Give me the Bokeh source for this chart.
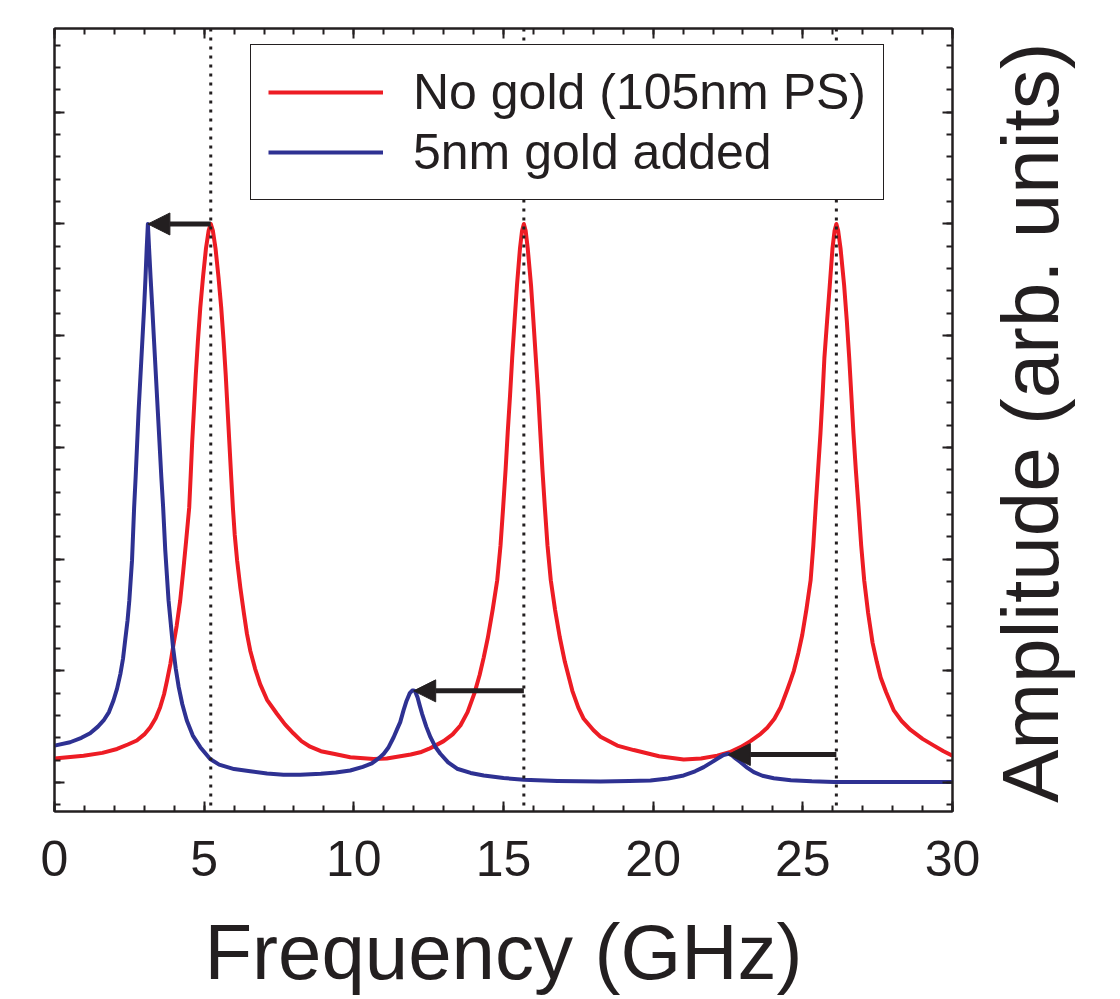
import math
from bokeh.plotting import figure
from bokeh.layouts import row
from bokeh.models import (LinearAxis, FixedTicker, Span, Arrow, NormalHead,
                          Legend, LegendItem, ColumnDataSource, Label)
from bokeh.embed import file_html
from bokeh.resources import INLINE

# ---------------- data ----------------
red_x = [0.0, 0.97, 1.6, 2.09, 2.45, 2.75, 3.0, 3.20, 3.38, 3.53, 3.66, 3.76, 3.87,
         3.96, 4.08, 4.20, 4.30, 4.40, 4.50, 4.55, 4.60, 4.66, 4.72, 4.79, 4.87, 4.96,
         5.06, 5.15, 5.22, 5.29, 5.38, 5.48, 5.57, 5.65, 5.72, 5.78, 5.84, 5.90, 5.96,
         6.02, 6.10, 6.21, 6.33, 6.43, 6.54, 6.70, 6.87, 7.10, 7.43, 7.7, 7.98, 8.25,
         8.54, 8.9, 9.32, 9.88, 10.66, 11.1, 11.55, 11.9, 12.22, 12.5, 12.72, 13.0,
         13.3, 13.56, 13.8, 14.03, 14.2, 14.34, 14.48, 14.64, 14.79, 14.90, 14.99,
         15.07, 15.14, 15.22, 15.29, 15.37, 15.45, 15.55, 15.62, 15.68, 15.74, 15.81,
         15.92, 16.00, 16.08, 16.16, 16.23, 16.30, 16.38, 16.47, 16.58, 16.72, 16.88,
         17.05, 17.30, 17.50, 17.68, 18.0, 18.24, 18.8, 19.35, 20.2, 21.02, 21.6,
         22.14, 22.55, 22.92, 23.25, 23.59, 23.81, 24.05, 24.26, 24.48, 24.60, 24.70,
         24.85, 24.98, 25.12, 25.26, 25.35, 25.43, 25.51, 25.59, 25.66, 25.72, 25.81,
         25.90, 25.99, 26.06, 26.12, 26.18, 26.26, 26.38, 26.47, 26.55, 26.62, 26.69,
         26.77, 26.86, 26.95, 27.05, 27.18, 27.33, 27.47, 27.60, 27.78, 28.04, 28.3,
         28.60, 29.0, 29.38, 29.7, 30.0]
red_y = [0.215, 0.24, 0.265, 0.30, 0.34, 0.376, 0.43, 0.495, 0.575, 0.674, 0.79, 0.913,
         1.06, 1.21, 1.40, 1.63, 1.89, 2.17, 2.46, 2.75, 3.05, 3.35, 3.65, 3.95, 4.25,
         4.52, 4.78, 4.94, 5.0, 4.94, 4.78, 4.52, 4.25, 3.95, 3.65, 3.35, 3.05, 2.75,
         2.46, 2.22, 1.99, 1.74, 1.51, 1.33, 1.18, 1.02, 0.88, 0.74, 0.615, 0.52, 0.44,
         0.37, 0.32, 0.28, 0.257, 0.225, 0.209, 0.215, 0.235, 0.25, 0.27, 0.30, 0.33,
         0.37, 0.43, 0.51, 0.63, 0.80, 0.96, 1.12, 1.30, 1.55, 1.81, 2.12, 2.47, 2.80,
         3.13, 3.47, 3.80, 4.13, 4.45, 4.78, 4.94, 5.0, 4.94, 4.78, 4.45, 4.13, 3.80,
         3.47, 3.13, 2.80, 2.47, 2.12, 1.81, 1.55, 1.30, 1.08, 0.82, 0.67, 0.57, 0.47,
         0.41, 0.33, 0.29, 0.235, 0.206, 0.215, 0.24, 0.27, 0.316, 0.37, 0.436, 0.49,
         0.57, 0.674, 0.83, 0.92, 1.0, 1.16, 1.32, 1.55, 1.81, 2.12, 2.47, 2.80, 3.13,
         3.47, 3.80, 4.13, 4.45, 4.78, 4.94, 5.0, 4.94, 4.78, 4.45, 4.13, 3.80, 3.47,
         3.13, 2.80, 2.47, 2.12, 1.81, 1.52, 1.25, 1.08, 0.94, 0.81, 0.645, 0.55, 0.47,
         0.39, 0.33, 0.28, 0.24]

blue_x = [0.0, 0.52, 0.9, 1.19, 1.45, 1.64, 1.82, 1.97, 2.09, 2.20, 2.29, 2.36, 2.44,
          2.50, 2.59, 2.66, 2.71, 2.76, 2.81, 2.87, 2.93, 2.99, 3.04, 3.08, 3.12, 3.16,
          3.21, 3.27, 3.33, 3.39, 3.45, 3.51, 3.57, 3.63, 3.70, 3.81, 3.96, 4.05, 4.15,
          4.27, 4.42, 4.62, 4.87, 5.2, 5.5, 6.0, 6.54, 7.1, 7.65, 8.21, 8.9, 9.4, 9.88,
          10.3, 10.6, 10.85, 11.0, 11.15, 11.33, 11.45, 11.55, 11.66, 11.76, 11.87,
          11.95, 12.0, 12.05, 12.13, 12.2, 12.28, 12.42, 12.56, 12.72, 12.89, 13.15,
          13.45, 13.9, 14.34, 15.0, 15.68, 16.8, 18.24, 19.2, 19.91, 20.5, 21.02, 21.4,
          21.69, 21.95, 22.14, 22.35, 22.51, 22.62, 22.75, 22.92, 23.15, 23.36, 23.65,
          24.03, 24.6, 25.3, 26.04, 28.0, 30.0]
blue_y = [0.33, 0.36, 0.40, 0.44, 0.50, 0.555, 0.63, 0.734, 0.84, 0.97, 1.11, 1.27,
          1.45, 1.63, 1.99, 2.46, 2.73, 3.03, 3.33, 3.63, 3.93, 4.23, 4.52, 4.78, 5.0,
          4.78, 4.52, 4.23, 3.93, 3.63, 3.33, 3.03, 2.73, 2.46, 2.08, 1.63, 1.21, 1.02,
          0.853, 0.70, 0.555, 0.42, 0.316, 0.21, 0.16, 0.12, 0.10, 0.08, 0.069, 0.068,
          0.078, 0.09, 0.107, 0.14, 0.17, 0.22, 0.257, 0.31, 0.405, 0.48, 0.54, 0.645,
          0.73, 0.80, 0.823, 0.824, 0.815, 0.76, 0.69, 0.615, 0.50, 0.405, 0.32, 0.257,
          0.18, 0.123, 0.085, 0.063, 0.04, 0.024, 0.014, 0.009, 0.012, 0.018, 0.035,
          0.063, 0.10, 0.137, 0.18, 0.212, 0.245, 0.257, 0.245, 0.215, 0.182, 0.13,
          0.092, 0.06, 0.038, 0.02, 0.01, 0.005, 0.003, 0.003]

series_labels = ["No gold (105nm PS)", "5nm gold added"]

# resonance positions (dotted lines) and shift arrows
mode_x = [5.22, 15.68, 26.12]
arrow_x_start = [5.22, 15.68, 26.12]
arrow_x_end = [3.12, 12.0, 22.51]
arrow_y = [5.0, 0.82, 0.25]

x_major = [0, 5, 10, 15, 20, 25, 30]
x_minor = list(range(0, 31))
y_major = [0, 1, 2, 3, 4, 5, 6]
y_minor = [round(-0.2 + 0.2 * i, 1) for i in range(35)]

x_title = "Frequency (GHz)"
y_title = "Amplitude (arb. units)"

# ---------------- styling ----------------
FONT = "Liberation Sans"
INK = "#231F20"
RED = "#ED1C24"
BLUE = "#2E3192"
Y_RANGE = (-0.26, 6.75)

p = figure(width=982, height=999, x_range=(0, 30), y_range=Y_RANGE,
           output_backend="svg", toolbar_location=None,
           min_border_left=54, min_border_right=30,
           min_border_top=28, min_border_bottom=188)
p.grid.visible = False
p.outline_line_color = INK
p.outline_line_width = 2
p.background_fill_color = "white"
p.border_fill_color = "white"

xt = FixedTicker(ticks=x_major, minor_ticks=x_minor)
yt = FixedTicker(ticks=y_major, minor_ticks=y_minor)


def style_axis(ax, ticker, labels):
    ax.ticker = ticker
    ax.axis_line_color = INK
    ax.axis_line_width = 2
    ax.major_tick_in = 10
    ax.major_tick_out = 0
    ax.minor_tick_in = 6
    ax.minor_tick_out = 0
    ax.major_tick_line_color = INK
    ax.minor_tick_line_color = INK
    ax.major_tick_line_width = 2
    ax.minor_tick_line_width = 2
    if labels:
        ax.major_label_text_font = FONT
        ax.major_label_text_font_size = "50px"
        ax.major_label_text_color = INK
        ax.major_label_standoff = 29
    else:
        ax.major_label_text_color = None
        ax.major_label_text_font_size = "1px"
        ax.major_label_standoff = 0


xax = p.xaxis[0]
style_axis(xax, xt, True)
xax.axis_label = x_title
xax.axis_label_text_font = FONT
xax.axis_label_text_font_size = "78px"
xax.axis_label_text_font_style = "normal"
xax.axis_label_text_color = INK
xax.axis_label_standoff = 29

style_axis(p.yaxis[0], yt, False)
top_axis = LinearAxis()
style_axis(top_axis, xt, False)
p.add_layout(top_axis, "above")
right_axis = LinearAxis()
style_axis(right_axis, yt, False)
p.add_layout(right_axis, "right")

r_red = p.line(red_x, red_y, line_color=RED, line_width=4, line_join="round")
r_blue = p.line(blue_x, blue_y, line_color=BLUE, line_width=4, line_join="round")

for v in mode_x:
    p.add_layout(Span(location=v, dimension="height", line_color=INK,
                      line_width=3, line_dash="3 6"))

arrow_src = ColumnDataSource(dict(x0=arrow_x_start, x1=arrow_x_end, y=arrow_y))
p.add_layout(Arrow(end=NormalHead(size=22, fill_color=INK, line_color=INK, line_width=1),
                   x_start="x0", y_start="y", x_end="x1", y_end="y",
                   source=arrow_src, line_color=INK, line_width=5))

legend = Legend(items=[LegendItem(label=series_labels[0], renderers=[r_red]),
                       LegendItem(label=series_labels[1], renderers=[r_blue])],
                location=(196, 611), margin=0, padding=17, spacing=0,
                glyph_width=115, glyph_height=60, label_height=60,
                label_standoff=30, label_text_font=FONT,
                label_text_font_size="50px", label_text_color=INK,
                label_text_baseline="middle",
                border_line_color=INK, border_line_width=1.5, border_line_alpha=1,
                background_fill_color="white", background_fill_alpha=1)
p.add_layout(legend, "center")

# narrow companion panel holding the rotated y-axis title (reads bottom to top)
q = figure(width=138, height=999, x_range=(0, 138), y_range=Y_RANGE,
           output_backend="svg", toolbar_location=None,
           x_axis_location=None, y_axis_location=None,
           min_border_left=0, min_border_right=0,
           min_border_top=28, min_border_bottom=188)
q.grid.visible = False
q.outline_line_color = None
q.background_fill_color = "white"
q.border_fill_color = "white"
q.add_layout(Label(x=48, y=3.22, text=y_title, angle=math.pi / 2,
                   text_font=FONT, text_font_size="80px", text_color=INK,
                   text_align="center", text_baseline="alphabetic"))

layout = row(p, q, spacing=0)
open("out.html", "w").write(file_html(layout, INLINE))
